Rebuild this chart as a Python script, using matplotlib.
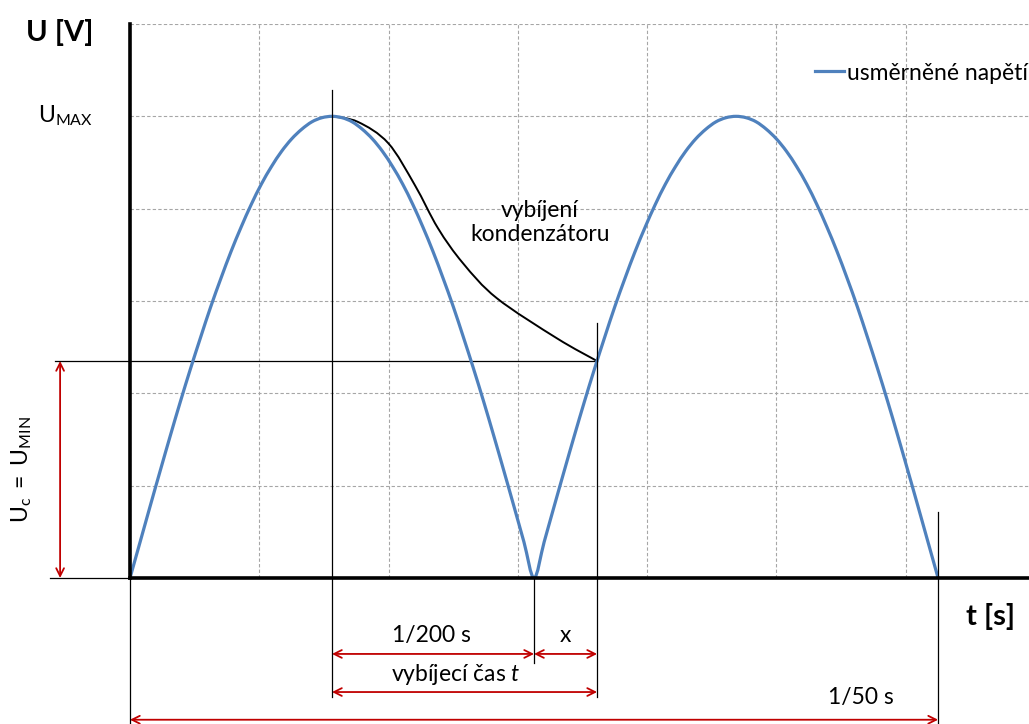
import numpy as np
import matplotlib
matplotlib.use('Agg')
import matplotlib.pyplot as plt
from matplotlib.path import Path
from matplotlib.patches import PathPatch
from matplotlib.lines import Line2D

plt.rcParams['font.family'] = ['Lato', 'DejaVu Sans']
plt.rcParams['mathtext.fontset'] = 'custom'
plt.rcParams['mathtext.rm'] = 'Lato'
plt.rcParams['mathtext.it'] = 'Lato:italic'

# --- data (time in ms, voltage relative to U_MAX) ---
# one half-wave of the rectified voltage, every 0.25 ms
u_half = [0.000, 0.078, 0.156, 0.233, 0.309, 0.383, 0.454, 0.522, 0.588, 0.649,
          0.707, 0.760, 0.809, 0.853, 0.891, 0.924, 0.951, 0.972, 0.988, 0.997,
          1.000, 0.997, 0.988, 0.972, 0.951, 0.924, 0.891, 0.853, 0.809, 0.760,
          0.707, 0.649, 0.588, 0.522, 0.454, 0.383, 0.309, 0.233, 0.156, 0.078,
          0.000]
u_rect = u_half + u_half[1:]
t_rect = np.arange(len(u_rect)) * 0.25

# capacitor discharge
t_dis = [5.0, 5.64, 6.39, 7.05, 7.62, 8.24, 9.08, 10.57, 11.56]
u_dis = [1.0, 0.988, 0.942, 0.851, 0.758, 0.682, 0.606, 0.519, 0.47]

t_peak = 5.0       # first maximum
t_zero = 10.0      # 1/200 s
t_end = 11.56      # end of discharge
t_period = 20.0    # 1/50 s
u_min = 0.47

BLUE = '#4F81BD'
RED = '#C00000'


def smooth(xs, ys):
    # catmull-rom through points, as bezier path (like excel smoothed line)
    P = np.column_stack([xs, ys]).astype(float)
    n = len(P)
    verts = [P[0]]
    codes = [Path.MOVETO]
    for i in range(n - 1):
        p0 = P[i - 1] if i > 0 else P[i]
        p1 = P[i]
        p2 = P[i + 1]
        p3 = P[i + 2] if i + 2 < n else P[i + 1]
        verts += [p1 + (p2 - p0) / 6, p2 - (p3 - p1) / 6, p2]
        codes += [Path.CURVE4] * 3
    return Path(verts, codes)


fig = plt.figure(figsize=(10.29, 7.24), dpi=100)
ax = fig.add_axes([130 / 1029, 146 / 724, 899 / 1029, 554 / 724])
ax.set_xlim(0, 22.25)
ax.set_ylim(0, 1.2)

ax.set_xticks(np.arange(0, 22.3, 3.2))
ax.set_yticks(np.arange(0, 1.21, 0.2))
ax.tick_params(length=0, labelbottom=False, labelleft=False)
ax.grid(True, color='#A6A6A6', lw=0.8, ls=(0, (3, 2)))
for s in ['top', 'right']:
    ax.spines[s].set_visible(False)
for s in ['left', 'bottom']:
    ax.spines[s].set_linewidth(2.6)
    ax.spines[s].set_zorder(5)

ax.add_patch(PathPatch(smooth(t_dis, u_dis), fill=False, ec='black', lw=1.4, zorder=3))
ax.add_patch(PathPatch(smooth(t_rect, u_rect), fill=False, ec=BLUE, lw=2.3, zorder=4))

# helper lines outside the plot
def vline(x, y0, y1):
    ax.plot([x, x], [y0, y1], color='black', lw=0.9, clip_on=False, zorder=6)

vline(t_peak, 1.056, -0.258)
vline(t_zero, 0, -0.184)
vline(t_end, 0.552, -0.258)
vline(t_period, 0.143, -0.33)
vline(0, 0, -0.33)
ax.plot([-1.86, t_end], [u_min, u_min], color='black', lw=0.9, clip_on=False)
ax.plot([-1.98, 0], [0, 0], color='black', lw=0.9, clip_on=False)


def arrow(x0, y0, x1, y1):
    ax.annotate('', xy=(x1, y1), xytext=(x0, y0), annotation_clip=False,
                arrowprops=dict(arrowstyle='<->', color=RED, lw=1.3,
                                shrinkA=0, shrinkB=0, mutation_scale=14))

arrow(-1.73, 0, -1.73, u_min)
arrow(t_peak, -0.1645, t_zero, -0.1645)
arrow(t_zero, -0.1645, t_end, -0.1645)
arrow(t_peak, -0.247, t_end, -0.247)
arrow(0, -0.307, t_period, -0.307)

ax.text((t_peak + t_zero) / 2 - 0.05, -0.125, '1/200 s', ha='center', va='center', fontsize=16.5)
ax.text((t_zero + t_end) / 2, -0.125, 'x', ha='center', va='center', fontsize=16.5)
ax.text(8.05, -0.210, r'vybíjecí čas $\it{t}$', ha='center', va='center', fontsize=16.5)
ax.text(18.1, -0.258, '1/50 s', ha='center', va='center', fontsize=16.5)
ax.text(10.15, 0.77, 'vybíjení\nkondenzátoru', ha='center', va='center',
        fontsize=16.5, linespacing=1.2)

fig.text(60 / 1029, 1 - 32 / 724, 'U [V]', ha='center', va='center',
         fontsize=21, fontweight='bold')
fig.text(990 / 1029, 1 - 616 / 724, 't [s]', ha='center', va='center',
         fontsize=21, fontweight='bold')
fig.text(93 / 1029, 1 - 116 / 724, r'$\mathrm{U_{MAX}}$', ha='right', va='center',
         fontsize=16.5)
fig.text(22 / 1029, 1 - 470 / 724, r'$\mathrm{U_{c}\ =\ U_{MIN}}$', ha='center',
         va='center', rotation=90, fontsize=16.5)

handle = Line2D([], [], color=BLUE, lw=2.3)
ax.legend([handle], ['usměrněné napětí'], loc='center left',
          bbox_to_anchor=(815 / 1029, 1 - 73 / 724), bbox_transform=fig.transFigure,
          frameon=False, fontsize=16.5, handlelength=1.25, handletextpad=0.15,
          borderpad=0, borderaxespad=0)

fig.savefig('out.png', dpi=100)
